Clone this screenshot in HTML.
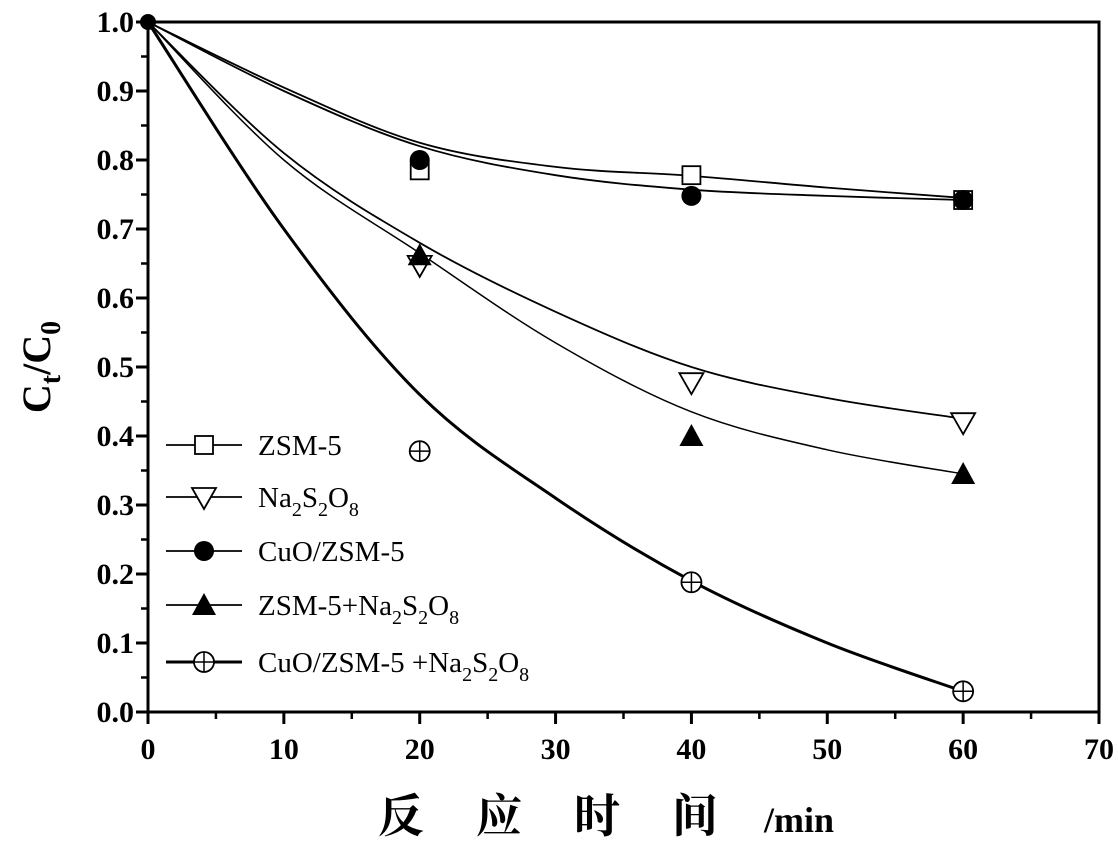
<!DOCTYPE html>
<html><head><meta charset="utf-8"><style>
body{margin:0;background:#fff}
svg{display:block}
</style></head><body>
<svg id="chart" width="1118" height="843" xmlns="http://www.w3.org/2000/svg" font-family="Liberation Serif, serif"></svg>
<script>
const xTicks=[0,10,20,30,40,50,60,70];
const yTicks=[0.0,0.1,0.2,0.3,0.4,0.5,0.6,0.7,0.8,0.9,1.0];
const xData=[0,20,40,60];
const zsm=[1,0.785,0.778,0.742];
const na=[1,0.648,0.478,0.42];
const cuo=[1,0.80,0.748,0.742];
const zsmNa=[1,0.662,0.40,0.345];
const cuoNa=[1,0.378,0.188,0.03];
const fitX=[0,10,20,30,40,50,60];
const fitZsm=[1,0.905,0.825,0.79,0.777,0.76,0.745];
const fitCuo=[1,0.9,0.82,0.778,0.757,0.748,0.742];
const fitNa=[1,0.81,0.68,0.58,0.50,0.455,0.425];
const fitZsmNa=[1,0.80,0.665,0.535,0.435,0.38,0.345];
const fitCuoNa=[1,0.70,0.46,0.31,0.19,0.10,0.03];

const L=148,R=1099,T=22,B=712;
const sx=v=>L+(v-0)/70*(R-L);
const sy=v=>B-(v-0)/1.0*(B-T);
const svg=document.getElementById('chart');
const NS='http://www.w3.org/2000/svg';
function mk(tag,attrs,parent){const e=document.createElementNS(NS,tag);for(const k in attrs)e.setAttribute(k,attrs[k]);(parent||svg).appendChild(e);return e;}

let fr=mk('rect',{x:L,y:T,width:R-L,height:B-T,fill:'none',stroke:'#000','stroke-width':3});



xTicks.forEach((v,i)=>{
  let t=mk('line',{x1:sx(v),y1:B,x2:sx(v),y2:B+12,stroke:'#000','stroke-width':3});
  
  
  if(i<xTicks.length-1){let m=mk('line',{x1:sx(v+5),y1:B,x2:sx(v+5),y2:B+7,stroke:'#000','stroke-width':2.5});
  
  }
  let lb=mk('text',{x:sx(v),y:B+47,'text-anchor':'middle','font-size':30,'font-weight':'bold'});
  lb.textContent=v;
  
  
});
yTicks.forEach((v,i)=>{
  let t=mk('line',{x1:L-12,y1:sy(v),x2:L,y2:sy(v),stroke:'#000','stroke-width':3});
  
  
  if(i<yTicks.length-1){let m=mk('line',{x1:L-7,y1:sy(v+0.05),x2:L,y2:sy(v+0.05),stroke:'#000','stroke-width':2.5});
  
  }
  let lb=mk('text',{x:L-14,y:sy(v)+10,'text-anchor':'end','font-size':30,'font-weight':'bold'});
  lb.textContent=v.toFixed(1);
  
  
});

function curve(xs,ys,w,name){
  const p=xs.map((x,i)=>[sx(x),sy(ys[i])]);
  let d='M'+p[0][0]+','+p[0][1];
  for(let i=0;i<p.length-1;i++){
    const p0=p[Math.max(0,i-1)],p1=p[i],p2=p[i+1],p3=p[Math.min(p.length-1,i+2)];
    const c1=[p1[0]+(p2[0]-p0[0])/6,p1[1]+(p2[1]-p0[1])/6];
    const c2=[p2[0]-(p3[0]-p1[0])/6,p2[1]-(p3[1]-p1[1])/6];
    d+=` C${c1[0]},${c1[1]} ${c2[0]},${c2[1]} ${p2[0]},${p2[1]}`;
  }
  let e=mk('path',{d:d,fill:'none',stroke:'#000','stroke-width':w});
  
  
}
curve(fitX,fitZsm,1.8,'fit-zsm5');
curve(fitX,fitCuo,1.8,'fit-cuo-zsm5');
curve(fitX,fitNa,1.8,'fit-na2s2o8');
curve(fitX,fitZsmNa,1.5,'fit-zsm5-na2s2o8');
curve(fitX,fitCuoNa,3,'fit-cuo-zsm5-na2s2o8');

function marker(type,cx,cy,g){
  if(type==='sq')return mk('rect',{x:cx-9,y:cy-9,width:18,height:18,fill:'#fff',stroke:'#000','stroke-width':1.8},g);
  if(type==='dt')return mk('polygon',{points:`${cx-12},${cy-9} ${cx+12},${cy-9} ${cx},${cy+12}`,fill:'#fff',stroke:'#000','stroke-width':1.8},g);
  if(type==='ci')return mk('circle',{cx:cx,cy:cy,r:10,fill:'#000'},g);
  if(type==='ut')return mk('polygon',{points:`${cx-12},${cy+10} ${cx+12},${cy+10} ${cx},${cy-12}`,fill:'#000'},g);
  if(type==='cp'){const gg=mk('g',{},g);mk('circle',{cx:cx,cy:cy,r:10,fill:'#fff',stroke:'#000','stroke-width':1.8},gg);
    mk('line',{x1:cx-10,y1:cy,x2:cx+10,y2:cy,stroke:'#000','stroke-width':1.5},gg);mk('line',{x1:cx,y1:cy-10,x2:cx,y2:cy+10,stroke:'#000','stroke-width':1.5},gg);return gg;}
}
const series=[['sq',zsm,'zsm5'],['dt',na,'na2s2o8'],['ci',cuo,'cuo-zsm5'],['ut',zsmNa,'zsm5-na2s2o8'],['cp',cuoNa,'cuo-zsm5-na2s2o8']];
series.forEach(s=>{
  const g=mk('g',{});
  
  
  xData.forEach((x,i)=>{if(i===0)return;const m=marker(s[0],sx(x),sy(s[1][i]),g);
    
    });
});
const sp=mk('circle',{cx:sx(0),cy:sy(1),r:8,fill:'#000'});



const sub='<tspan font-size="20" dy="9">2</tspan><tspan dy="-9">S</tspan><tspan font-size="20" dy="9">2</tspan><tspan dy="-9">O</tspan><tspan font-size="20" dy="9">8</tspan>';
const legRows=[['sq','ZSM-5',445],['dt','Na'+sub,497],['ci','CuO/ZSM-5',551],['ut','ZSM-5+Na'+sub,605],['cp','CuO/ZSM-5 +Na'+sub,662]];
legRows.forEach((r,i)=>{
  const g=mk('g',{});
  
  
  mk('line',{x1:166,y1:r[2],x2:242,y2:r[2],stroke:'#000','stroke-width':i===4?3:1.8},g);
  marker(r[0],204,r[2],g);
  const t=mk('text',{x:258,y:r[2]+10,'font-size':29},g);
  t.innerHTML=r[1];
});

const yt=mk('text',{transform:'translate(50,367) rotate(-90)','text-anchor':'middle','font-size':40,'font-weight':'bold'});
yt.innerHTML='C<tspan font-size="28" dy="10">t</tspan><tspan dy="-10">/C</tspan><tspan font-size="28" dy="10">0</tspan>';


const xt=mk('text',{x:378,y:832,'font-size':46,'font-weight':'bold','font-family':'Liberation Serif, Noto Serif CJK SC, serif'});
xt.innerHTML='反<tspan dx="52">应</tspan><tspan dx="52">时</tspan><tspan dx="52">间</tspan><tspan dx="46" font-size="36" font-family="Liberation Serif, serif">/min</tspan>';


</script>
</body></html>
